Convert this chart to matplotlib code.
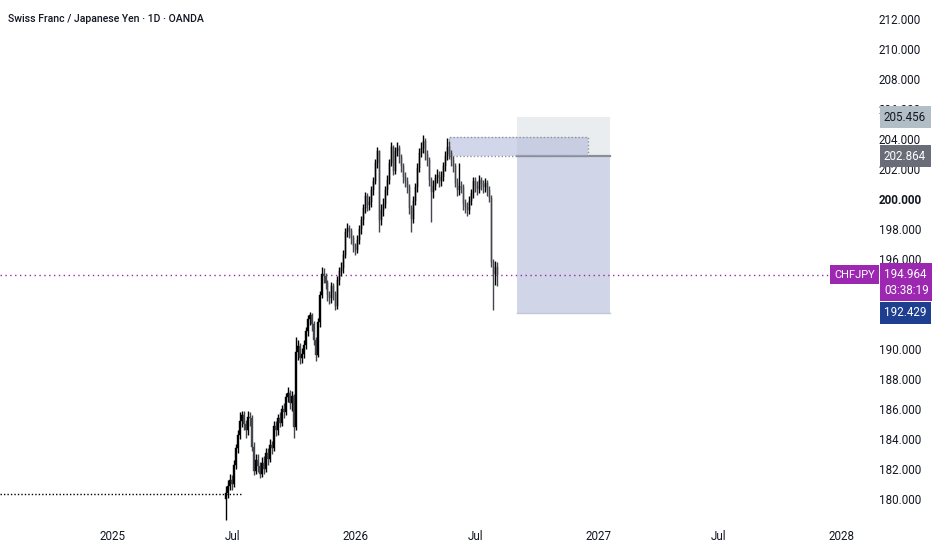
import matplotlib
matplotlib.use("Agg")
import matplotlib.pyplot as plt
import matplotlib.dates as mdates
import matplotlib.transforms as mtrans
from matplotlib.patches import Rectangle
import pandas as pd
import numpy as np

# ---------------- data ----------------
title = "Swiss Franc / Japanese Yen \u00b7 1D \u00b7 OANDA"
symbol = "CHFJPY"
first_open = 180.0
start_date = "2025-06-20"
bar_step_days = 3

closes = [
    180.4, 180.9, 181.3, 181.0, 182.3, 183.4, 184.3, 185.2, 185.6, 185.0,
    184.6, 185.5, 185.4, 183.5, 181.9, 182.6, 182.2, 181.7, 182.4, 182.0,
    183.1, 182.7, 183.6, 183.4, 184.9, 184.6, 185.4, 185.1, 186.0, 185.8,
    186.8, 187.1, 186.4, 186.9, 184.8, 189.8, 190.2, 189.4, 189.7, 190.3,
    191.2, 192.0, 192.3, 191.7, 190.6, 189.6, 191.8, 193.6, 195.0, 194.9,
    194.4, 193.6, 193.4, 194.2, 193.7, 192.9, 194.6, 195.2, 195.4, 196.3,
    197.8, 198.1, 197.9, 197.4, 196.9, 196.6, 197.3, 198.0, 198.6, 199.4,
    200.2, 199.6, 199.8, 200.6, 201.2, 202.4, 203.2, 198.6, 199.3, 199.7,
    200.6, 201.3, 202.4, 203.5, 201.9, 203.2, 203.4, 202.8, 202.2, 201.5,
    201.2, 200.8, 199.4, 198.7, 199.9, 200.8, 202.1, 203.1, 203.4, 203.9,
    203.0, 202.6, 201.3, 200.5, 200.9, 201.4, 201.6, 201.2, 201.5, 202.2,
    202.9, 203.5, 203.1, 202.6, 202.2, 201.1, 200.6, 200.9, 200.8, 199.7,
    199.5, 199.3, 199.9, 200.4, 201.2, 200.9, 200.7, 201.3, 201.0, 200.8,
    201.1, 200.6, 200.1, 195.8, 195.0, 195.5, 194.964,
]
highs = [
    180.9, 181.3, 181.7, 181.6, 182.6, 183.7, 184.6, 185.8, 185.9, 185.9,
    185.3, 185.9, 185.8, 185.6, 183.8, 183.0, 183.0, 182.5, 182.8, 182.9,
    183.4, 183.4, 184.0, 183.9, 185.2, 185.2, 185.7, 185.8, 186.3, 186.4,
    187.1, 187.5, 187.3, 187.2, 187.0, 190.8, 190.6, 190.4, 190.1, 190.6,
    191.5, 192.3, 192.5, 192.4, 191.9, 190.8, 192.1, 193.9, 195.5, 195.4,
    195.1, 194.6, 193.9, 194.5, 194.4, 193.9, 194.9, 195.5, 195.8, 196.6,
    198.1, 198.4, 198.3, 198.1, 197.6, 197.1, 197.6, 198.3, 198.9, 199.7,
    200.5, 200.4, 200.2, 200.9, 201.5, 202.7, 203.5, 203.3, 199.7, 200.1,
    200.9, 201.6, 202.7, 203.8, 203.6, 203.5, 203.8, 203.6, 203.0, 202.4,
    201.8, 201.5, 201.0, 199.6, 200.2, 201.1, 202.4, 203.4, 203.8, 204.3,
    204.1, 203.3, 202.8, 201.5, 201.3, 201.7, 202.0, 201.9, 201.9, 202.5,
    203.2, 204.1, 203.9, 203.3, 202.9, 202.4, 201.4, 202.4, 201.2, 201.0,
    200.0, 199.8, 200.2, 200.7, 201.5, 201.5, 201.2, 201.6, 201.5, 201.3,
    201.4, 201.3, 200.9, 200.3, 196.0, 195.9, 195.8,
]
lows = [
    178.6, 180.1, 180.6, 180.6, 180.8, 182.0, 183.1, 184.0, 184.8, 184.6,
    184.1, 184.3, 184.9, 183.2, 181.6, 181.7, 181.8, 181.4, 181.5, 181.7,
    181.8, 182.3, 182.5, 183.0, 183.2, 184.2, 184.3, 184.8, 184.9, 185.4,
    185.6, 186.5, 186.0, 185.9, 184.1, 184.6, 189.3, 189.0, 189.1, 189.4,
    190.0, 190.9, 191.6, 191.2, 190.3, 189.2, 189.5, 191.5, 193.4, 194.4,
    194.0, 193.2, 193.0, 193.1, 193.3, 192.6, 192.7, 194.3, 194.9, 195.1,
    196.1, 197.5, 197.4, 197.0, 196.5, 196.3, 196.4, 197.0, 197.7, 198.3,
    199.1, 199.2, 199.3, 199.5, 200.3, 201.0, 202.1, 197.8, 198.3, 198.9,
    199.4, 200.3, 201.0, 202.2, 201.6, 201.7, 202.9, 202.4, 201.8, 201.1,
    200.8, 200.4, 199.0, 197.8, 198.4, 199.6, 200.5, 201.8, 202.8, 203.1,
    202.6, 202.2, 200.9, 198.5, 200.1, 200.6, 201.1, 200.8, 200.9, 201.2,
    201.9, 202.6, 202.7, 202.2, 201.8, 200.8, 200.2, 200.3, 200.4, 199.3,
    199.1, 198.9, 199.0, 199.6, 200.1, 200.5, 200.3, 200.4, 200.6, 200.4,
    200.5, 200.2, 199.8, 195.5, 192.6, 194.3, 194.2,
]

y_ticks = [180, 182, 184, 186, 188, 190, 192, 194, 196, 198, 200, 202,
           204, 206, 208, 210, 212]
x_tick_dates = ["2025-01-01", "2025-07-01", "2026-01-01", "2026-07-01",
                "2027-01-01", "2027-07-01", "2028-01-01"]
x_tick_labels = ["2025", "Jul", "2026", "Jul", "2027", "Jul", "2028"]

last_price = 194.964
countdown = "03:38:19"
stop_price = 205.456
entry_price = 202.864
target_price = 192.429
box_start, box_end = "2026-09-01", "2027-01-18"
zone_top, zone_bottom = 204.13, 202.864
zone_start, zone_end = "2026-05-21", "2026-12-17"
support_level = 180.33
support_end = "2025-07-16"
x_min, x_max = "2024-07-16", "2028-02-16"
y_min, y_max = 178.467, 213.267

# ---------------- figure ----------------
W, H = 932, 550
fig = plt.figure(figsize=(W / 100, H / 100), dpi=100)
fig.patch.set_facecolor("white")
ax = fig.add_axes([0, 28 / H, 872 / W, 1 - 28 / H])
ax.set_facecolor("white")
for s in ax.spines.values():
    s.set_visible(False)

font = "Roboto"
txt_col = "#131722"

dates = pd.date_range(start_date, periods=len(closes), freq=f"{bar_step_days}D")
xd = mdates.date2num(dates.to_pydatetime())
opens = [first_open] + closes[:-1]
o = np.array(opens); c = np.array(closes)
h = np.maximum(np.array(highs), np.maximum(o, c))
l = np.minimum(np.array(lows), np.minimum(o, c))
up = c >= o
up_col, dn_col = "#000000", "#45474e"
cols = np.where(up, up_col, dn_col)

ax.vlines(xd, l, h, colors=cols, linewidth=1.0, zorder=3)
body_h = np.maximum(np.abs(c - o), 0.08)
ax.bar(xd, body_h, bottom=np.minimum(o, c), width=2.0, color=cols,
       edgecolor=cols, linewidth=0.3, zorder=4)

# position tool
bs, be = mdates.datestr2num(box_start), mdates.datestr2num(box_end)
ax.add_patch(Rectangle((bs, entry_price), be - bs, stop_price - entry_price,
                       facecolor="#eaedf0", edgecolor="none", zorder=1))
ax.add_patch(Rectangle((bs, target_price), be - bs, entry_price - target_price,
                       facecolor="#d1d5e8", edgecolor="none", zorder=1))
ax.plot([bs, be], [entry_price, entry_price], color="#8a8d96", lw=1.6, zorder=2)
ax.plot([bs, be], [target_price, target_price], color="#c2c6d9", lw=1.0, zorder=2)

# dashed zone
zs, ze = mdates.datestr2num(zone_start), mdates.datestr2num(zone_end)
ax.add_patch(Rectangle((zs, zone_bottom), ze - zs, zone_top - zone_bottom,
                       facecolor="#a7aed6", alpha=0.5, edgecolor="none", zorder=2))
ax.add_patch(Rectangle((zs, zone_bottom), ze - zs, zone_top - zone_bottom,
                       facecolor="none", edgecolor="#8f939e", linestyle=(0, (1, 1.5)),
                       lw=1.0, zorder=2))

# lines
xmn, xmx = mdates.datestr2num(x_min), mdates.datestr2num(x_max)
ax.plot([xmn, mdates.datestr2num(support_end)], [support_level] * 2,
        color="#000000", lw=1.0, linestyle=(0, (1, 1.5)), zorder=2)
trans_ad = mtrans.blended_transform_factory(ax.transAxes, ax.transData)
ax.plot([0, 841 / 872], [last_price] * 2, transform=trans_ad,
        color="#9c27b0", lw=1.0, linestyle=(0, (1, 2.5)), zorder=2)

ax.set_xlim(xmn, xmx)
ax.set_ylim(y_min, y_max)

# axes ticks
ax.yaxis.tick_right()
ax.set_yticks(y_ticks)
ax.set_yticklabels([f"{v:.3f}" for v in y_ticks], fontfamily=font, fontsize=8.4,
                   color=txt_col)
for lab, v in zip(ax.get_yticklabels(), y_ticks):
    if v == 200:
        lab.set_fontweight("bold")
ax.set_xticks(mdates.datestr2num(x_tick_dates))
ax.set_xticklabels(x_tick_labels, fontfamily=font, fontsize=8.4, color=txt_col)
ax.tick_params(axis="both", length=0)
ax.tick_params(axis="y", pad=5)
ax.tick_params(axis="x", pad=6)

# title
fig.text(8 / W, 1 - 19 / H, title, fontfamily="Roboto", fontweight="medium",
         fontsize=7.6, color=txt_col, va="center", ha="left")

# price badges
def badge(price, text, fc, tc, x0=12 / 872 + 1.0, dy=0, va="center"):
    ax.annotate(text, xy=(x0, price), xycoords=trans_ad, xytext=(0, dy),
                textcoords="offset pixels", ha="left", va=va, fontfamily=font,
                fontsize=8.4, color=tc, annotation_clip=False, zorder=10,
                linespacing=1.3,
                bbox=dict(boxstyle="square,pad=0.38", fc=fc, ec="none"))

badge(stop_price, f"{stop_price:.3f}", "#b2bec6", txt_col)
badge(entry_price, f"{entry_price:.3f}", "#6a6d78", "white")
badge(target_price, f"{target_price:.3f}", "#1e3e8f", "white")
badge(last_price, f"{last_price:.3f}\n{countdown}", "#9c27b0", "white",
      dy=7, va="top")
ax.annotate(symbol, xy=(875 / 872, last_price), xycoords=trans_ad,
            ha="right", va="center", fontfamily=font, fontsize=8.0, color="white",
            annotation_clip=False, zorder=10,
            bbox=dict(boxstyle="square,pad=0.38", fc="#9c27b0", ec="none"))

fig.savefig("out.png", dpi=100, facecolor="white")
